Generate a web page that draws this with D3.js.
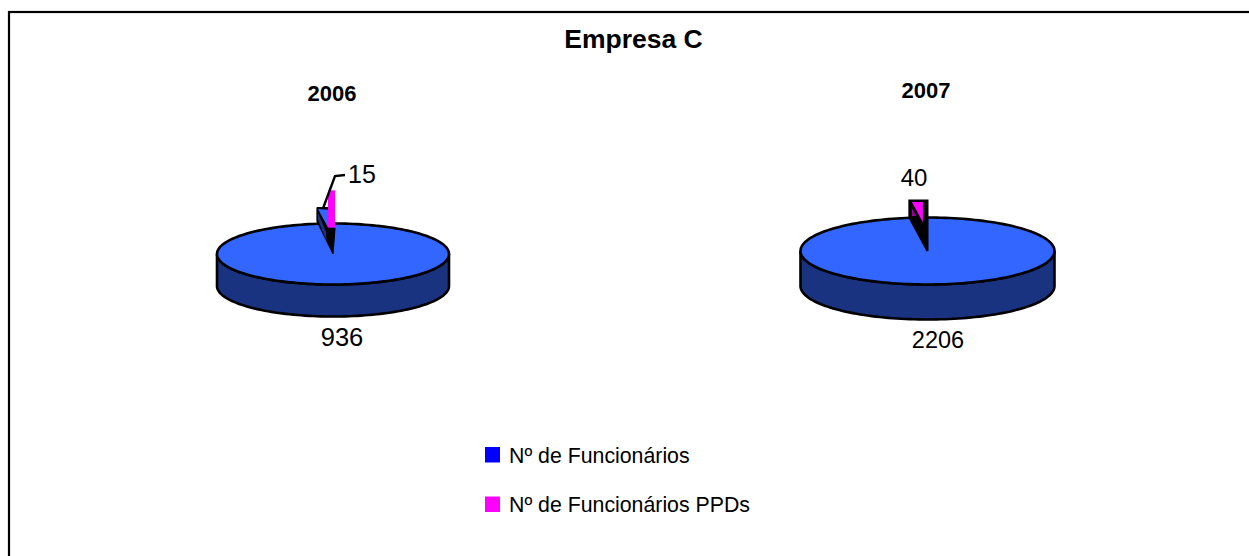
<!DOCTYPE html>
<html><head><meta charset="utf-8">
<script src="https://cdn.jsdelivr.net/npm/d3@7/dist/d3.min.js"></script>
<style>html,body{margin:0;padding:0;background:#fff}svg{display:block}text{font-family:"Liberation Sans",Arial,sans-serif;fill:#000}</style>
</head><body><svg id="c" width="1249" height="556"></svg>
<script>
const title = "Empresa C";
const years = ["2006", "2007"];
const categories = ["Nº de Funcionários", "Nº de Funcionários PPDs"];
const employees = [936, 2206];
const ppds = [15, 40];
const legendColors = ["#0000ff", "#ff00ff"];
const bodyTop = "#3366ff", bodySide = "#1a3380", slice = "#ff00ff", sliceDark = "#990099";

const layout = [
  {cx:333, cy:254, rx:116, ry:30.5, depth:32, yearX:332, yearY:94, yearSize:22, bigX:342, bigY:346, bigSize:25.5, smallX:348, smallY:183, smallSize:25, out:1.4, lift:4, style:"strip"},
  {cx:927.5, cy:251, rx:127, ry:33.5, depth:35, yearX:926, yearY:91, yearSize:22, bigX:938, bigY:348, bigSize:23.5, smallX:914, smallY:186, smallSize:24, out:1.28, lift:8, style:"tri"}
];

const svg = d3.select("#c");
svg.append("rect").attr("x",9).attr("y",12).attr("width",1300).attr("height",600).attr("fill","#fff").attr("stroke","#000").attr("stroke-width",2.2);
svg.append("text").attr("x",633.5).attr("y",48).attr("text-anchor","middle").attr("font-size",26.5).attr("font-weight","bold").text(title);

const pie = d3.pie().sort(null);
years.forEach((y,i)=>{
  const L = layout[i];
  const g = svg.append("g");
  const arcs = pie([ppds[i], employees[i]]);
  const a = arcs[0].endAngle - arcs[0].startAngle;
  const x = d3.scaleLinear().domain([-1,1]).range([L.cx-L.rx, L.cx+L.rx]);
  const yy = d3.scaleLinear().domain([-1,1]).range([L.cy-L.ry, L.cy+L.ry]);
  const yb = d3.scaleLinear().domain([-1,1]).range([L.cy-L.ry+L.depth, L.cy+L.ry+L.depth]);
  const ts = d3.range(0,Math.PI+0.001,Math.PI/90);
  const line = d3.line();
  const side = ts.map(t=>[x(Math.cos(t)), yb(Math.sin(t))]).concat(ts.slice().reverse().map(t=>[x(Math.cos(t)), yy(Math.sin(t))]));
  g.append("path").attr("d",line(side)+"Z").attr("fill",bodySide).attr("stroke","#000").attr("stroke-width",2.6);
  const tt = d3.range(0,Math.PI*2,Math.PI/90).map(t=>[x(Math.cos(t)), yy(Math.sin(t))]);
  g.append("path").attr("d",line(tt)+"Z").attr("fill",bodyTop).attr("stroke","#000").attr("stroke-width",2.6);

  const ox = -L.rx*Math.sin(a)*L.out, oy = -L.ry*Math.cos(a)*L.out - L.lift;
  const P = (u,v)=>[L.cx+ox*u, L.cy+oy*v];
  const poly = (pts,fill,sw)=>g.append("path").attr("d",line(pts)+"Z").attr("fill",fill).attr("stroke",sw?"#000":"none").attr("stroke-width",sw||0).attr("stroke-linejoin","miter");
  if(L.style==="strip"){
    poly([P(0,0),P(1,.7),P(1,1),P(.31,1),P(.31,.56),P(-.13,.56)],"#000",1);
    poly([P(.94,.97),P(.31,.95),P(.31,.57)],bodyTop,0);
    poly([P(.94,.89),P(.94,.74),P(.42,.3),P(.42,.46)],bodySide,0);
    poly([P(.31,1.37),P(-.13,1.37),P(-.13,.57),P(.31,.57)],slice,0);
    g.append("path").attr("d",line([[L.cx+ox*.6,L.cy+oy],[L.cx+2,L.cy-78],[L.cx+12,L.cy-79]])).attr("fill","none").attr("stroke","#000").attr("stroke-width",2.4);
  } else {
    poly([P(0,0),P(1,.66),P(1,1),P(0,1)],"#000",2);
    poly([P(.86,.97),P(.25,.97),P(.25,.57)],slice,0);
    poly([P(.86,.85),P(.86,.69),P(.63,.69)],sliceDark,0);
  }
  g.append("text").attr("x",L.yearX).attr("y",L.yearY+7).attr("text-anchor","middle").attr("font-size",L.yearSize).attr("font-weight","bold").text(y);
  g.append("text").attr("x",L.bigX).attr("y",L.bigY).attr("text-anchor","middle").attr("font-size",L.bigSize).text(employees[i]);
  g.append("text").attr("x",L.smallX).attr("y",L.smallY).attr("text-anchor",i===0?"start":"middle").attr("font-size",L.smallSize).text(ppds[i]);
});

const ly = d3.scalePoint().domain(categories).range([454.5,504]);
categories.forEach((c,i)=>{
  svg.append("rect").attr("x",485).attr("y",ly(c)-7.5).attr("width",15).attr("height",15.5).attr("fill",legendColors[i]);
  svg.append("text").attr("x",509).attr("y",ly(c)+8).attr("font-size",21.3).text(c);
});
</script></body></html>
